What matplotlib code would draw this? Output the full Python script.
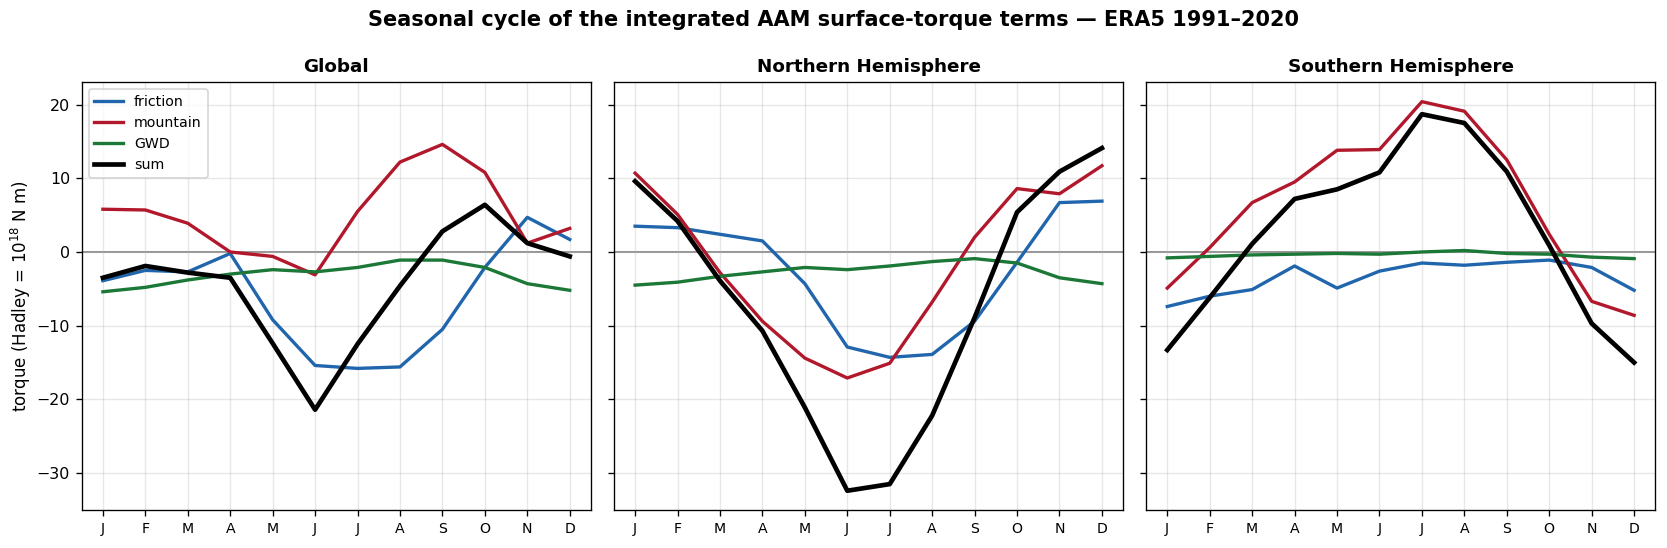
import matplotlib
matplotlib.use("Agg")
import matplotlib.pyplot as plt
import numpy as np

months = ["J", "F", "M", "A", "M", "J", "J", "A", "S", "O", "N", "D"]
regions = ["Global", "Northern Hemisphere", "Southern Hemisphere"]

# torque terms in Hadley (1e18 N m)
friction_glob = [-3.9, -2.5, -2.7, -0.2, -9.2, -15.4, -15.8, -15.6, -10.5, -2.1, 4.7, 1.7]
mountain_glob = [5.8, 5.7, 3.9, 0.0, -0.6, -3.1, 5.5, 12.2, 14.6, 10.8, 1.2, 3.2]
gwd_glob = [-5.4, -4.8, -3.8, -3.0, -2.4, -2.7, -2.1, -1.1, -1.1, -2.1, -4.3, -5.2]
sum_glob = [-3.5, -1.9, -2.8, -3.5, -12.4, -21.4, -12.5, -4.6, 2.8, 6.4, 1.2, -0.6]

friction_nh = [3.5, 3.3, 2.4, 1.5, -4.3, -12.9, -14.3, -13.9, -9.4, -1.4, 6.7, 6.9]
mountain_nh = [10.7, 5.1, -2.8, -9.4, -14.4, -17.1, -15.1, -6.8, 2.0, 8.6, 7.9, 11.7]
gwd_nh = [-4.5, -4.1, -3.3, -2.7, -2.1, -2.4, -1.9, -1.3, -0.9, -1.5, -3.5, -4.3]
sum_nh = [9.6, 4.2, -3.9, -10.7, -21.1, -32.4, -31.5, -22.2, -8.9, 5.4, 10.9, 14.1]

friction_sh = [-7.4, -6.0, -5.1, -1.9, -4.9, -2.6, -1.5, -1.8, -1.4, -1.1, -2.1, -5.2]
mountain_sh = [-4.9, 0.6, 6.7, 9.5, 13.8, 13.9, 20.4, 19.1, 12.5, 2.4, -6.7, -8.6]
gwd_sh = [-0.8, -0.6, -0.4, -0.3, -0.2, -0.3, 0.0, 0.2, -0.2, -0.3, -0.7, -0.9]
sum_sh = [-13.3, -6.2, 1.1, 7.2, 8.5, 10.8, 18.7, 17.5, 10.9, 0.9, -9.7, -15.0]

data = [
    (friction_glob, mountain_glob, gwd_glob, sum_glob),
    (friction_nh, mountain_nh, gwd_nh, sum_nh),
    (friction_sh, mountain_sh, gwd_sh, sum_sh),
]

x = np.arange(12)

fig, axes = plt.subplots(1, 3, figsize=(13.8917, 4.5667), dpi=120, sharey=True)
fig.subplots_adjust(left=0.049, right=0.993, top=0.85, bottom=0.069, wspace=0.045)

for ax, name, (fr, mo, gw, su) in zip(axes, regions, data):
    ax.axhline(0, color="grey", lw=1, zorder=1)
    ax.plot(x, fr, color="#2166ac", lw=2, label="friction")
    ax.plot(x, mo, color="#b2182b", lw=2, label="mountain")
    ax.plot(x, gw, color="#1b7837", lw=2, label="GWD")
    ax.plot(x, su, color="black", lw=2.8, label="sum")
    ax.set_title(name, fontsize=11, fontweight="bold")
    ax.set_xticks(x)
    ax.set_xticklabels(months, fontsize=8.5)
    ax.tick_params(axis="y", labelsize=9.5)
    ax.grid(alpha=0.3)
    ax.set_xlim(-0.5, 11.5)

axes[0].set_ylabel("torque (Hadley = $10^{18}$ N m)", fontsize=10, labelpad=2)
axes[0].legend(loc="upper left", fontsize=8.5)

fig.suptitle("Seasonal cycle of the integrated AAM surface-torque terms — ERA5 1991–2020",
             fontsize=12.5, fontweight="bold", y=0.982)

fig.savefig("out.png", dpi=120)
